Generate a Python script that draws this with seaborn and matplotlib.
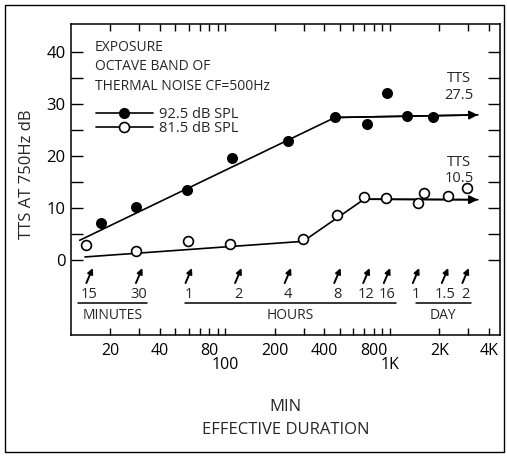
import numpy as np
import pandas as pd
import matplotlib
matplotlib.use("Agg")
import matplotlib.pyplot as plt
import matplotlib.transforms as mtransforms
from matplotlib.lines import Line2D
from matplotlib.patches import Rectangle
import seaborn as sns

# ---------------- data ----------------
hi_label = "92.5 dB SPL"
hi_dur = [17.6, 28.6, 58.7, 110, 240, 465, 724, 957, 1266, 1836]
hi_tts = [7.1, 10.2, 13.5, 19.7, 22.9, 27.4, 26.1, 32.1, 27.6, 27.4]
hi_fit_dur = [13.1, 465, 3430]
hi_fit_tts = [3.8, 27.4, 27.9]

lo_label = "81.5 dB SPL"
lo_dur = [14.4, 28.8, 59.4, 107, 298, 476, 700, 948, 1476, 1612, 2264, 2929]
lo_tts = [2.9, 1.8, 3.6, 3.0, 4.0, 8.7, 12.1, 11.9, 11.0, 12.8, 12.3, 13.8]
lo_fit_dur = [14.1, 298, 700, 3430]
lo_fit_tts = [0.6, 3.6, 11.7, 11.6]

# exposure-time markers (actual durations in minutes) and their labels
mark_min = [15, 30, 60, 120, 240, 480, 720, 960, 1440, 2160, 2880]
mark_lbl = ["15", "30", "1", "2", "4", "8", "12", "16", "1", "1.5", "2"]
group_names = ["MINUTES", "HOURS", "DAY"]
group_members = [(0, 1), (2, 7), (8, 10)]

x_major = [20, 40, 80, 100, 200, 400, 800, 1000, 2000, 4000]
x_major_lbl = ["20", "40", "80", "100", "200", "400", "800", "1K", "2K", "4K"]
x_minor = [30, 50, 60, 70, 90, 300, 500, 600, 700, 900, 3000]
y_major = [0, 10, 20, 30, 40]
y_minor = [5, 15, 25, 35]

tts_hi_text = "TTS\n27.5"
tts_lo_text = "TTS\n10.5"
exposure_text = ["EXPOSURE", "OCTAVE BAND OF", "THERMAL NOISE CF=500Hz"]

# ---------------- style ----------------
sns.set_theme(style="ticks")
FONT = ["Open Sans", "DejaVu Sans"]
plt.rcParams["font.family"] = FONT
plt.rcParams["axes.linewidth"] = 1.1

fig = plt.figure(figsize=(5.07, 4.63), dpi=100)
fig.patch.set_facecolor("white")
ax = fig.add_axes([0.140, 0.2765, 0.846, 0.672])
ax.set_facecolor("white")

# outer frame of the figure
fig.patches.append(Rectangle((0.010, 0.024), 0.984, 0.965, transform=fig.transFigure,
                             fill=False, edgecolor="black", lw=1.0))

hi_df = pd.DataFrame({"dur": hi_dur, "tts": hi_tts})
lo_df = pd.DataFrame({"dur": lo_dur, "tts": lo_tts})
hi_fit = pd.DataFrame({"dur": hi_fit_dur, "tts": hi_fit_tts})
lo_fit = pd.DataFrame({"dur": lo_fit_dur, "tts": lo_fit_tts})

ax.set_xscale("log")

sns.lineplot(data=hi_fit, x="dur", y="tts", ax=ax, color="black", lw=1.2,
             sort=False, estimator=None)
sns.lineplot(data=lo_fit, x="dur", y="tts", ax=ax, color="black", lw=1.2,
             sort=False, estimator=None)
# arrow heads on the last segments
for fd, ft in ((hi_fit_dur, hi_fit_tts), (lo_fit_dur, lo_fit_tts)):
    ax.annotate("", xy=(fd[-1], ft[-1]), xytext=(fd[-2], ft[-2]),
                arrowprops=dict(arrowstyle="-|>", color="black", lw=1.2,
                                mutation_scale=13, shrinkA=0, shrinkB=0))

sns.scatterplot(data=hi_df, x="dur", y="tts", ax=ax, color="black",
                edgecolor="black", s=48, linewidth=1.0, zorder=5)
sns.scatterplot(data=lo_df, x="dur", y="tts", ax=ax, color="white",
                edgecolor="black", s=50, linewidth=1.2, zorder=5)

ax.set_xlim(11.6, 4666)
ax.set_ylim(-14.4, 45.4)

ax.set_xticks(x_major)
ax.set_xticklabels(x_major_lbl, fontsize=11.5)
ax.set_xticks(x_minor, minor=True)
ax.set_xticklabels([], minor=True)
ax.set_yticks(y_major)
ax.set_yticklabels([str(v) for v in y_major], fontsize=12)
ax.set_yticks(y_minor, minor=True)

ax.tick_params(axis="x", which="both", direction="in", top=True, bottom=True,
               length=5, width=1.0, pad=6, colors="black")
ax.tick_params(axis="y", which="both", direction="in", left=True, right=True,
               length=8.5, width=1.0, pad=4, colors="black")
for lbl, tick in zip(x_major_lbl, ax.xaxis.get_major_ticks()):
    if lbl in ("100", "1K"):
        tick.set_pad(16)

for sp in ax.spines.values():
    sp.set_visible(True)
    sp.set_color("black")
    sp.set_linewidth(1.1)

ax.set_ylabel("TTS AT 750Hz dB", fontsize=12)
ax.yaxis.set_label_coords(-0.085, 0.515)
ax.set_xlabel("MIN\nEFFECTIVE DURATION", fontsize=12, linespacing=1.6)
ax.xaxis.set_label_coords(0.5, -0.205)

# exposure description
for i, t in enumerate(exposure_text):
    ax.text(0.056, 0.925 - i * 0.063, t, transform=ax.transAxes, fontsize=10,
            ha="left", va="center")

# legend
handles = [Line2D([], [], color="black", lw=1.2, marker="o", markersize=7,
                  markerfacecolor="black", markeredgecolor="black"),
           Line2D([], [], color="black", lw=1.2, marker="o", markersize=7.2,
                  markerfacecolor="white", markeredgecolor="black", markeredgewidth=1.2)]
ax.legend(handles, [hi_label, lo_label], loc="upper left",
          bbox_to_anchor=(0.058, 0.733), frameon=False, fontsize=10.5,
          handlelength=3.9, handletextpad=0.45, labelspacing=-0.05,
          borderpad=0, borderaxespad=0)

# TTS annotations at the right
ax.text(0.905, 0.797, tts_hi_text, transform=ax.transAxes, fontsize=10.5,
        ha="center", va="center", linespacing=1.15)
ax.text(0.905, 0.529, tts_lo_text, transform=ax.transAxes, fontsize=10.5,
        ha="center", va="center", linespacing=1.15)

# exposure-time arrows and labels
trans = mtransforms.blended_transform_factory(ax.transData, ax.transAxes)
for m, l in zip(mark_min, mark_lbl):
    centre = trans.transform((m, 0.191))
    tail = centre + np.array([-3.0, -7.5])
    head = centre + np.array([3.4, 7.5])
    ax.annotate("", xy=head, xycoords="figure pixels", xytext=tail,
                textcoords="figure pixels",
                arrowprops=dict(arrowstyle="-|>", color="black", lw=1.4,
                                mutation_scale=8, shrinkA=0, shrinkB=0))
    ax.text(m, 0.129, l, transform=trans, fontsize=10.5, ha="center", va="center")

# group underlines and names
pads = [(1.17, 1.12), (1.05, 1.135), (1.0, 1.08)]
for name, (i0, i1), (pl, pr) in zip(group_names, group_members, pads):
    x0 = mark_min[i0] / pl
    x1 = mark_min[i1] * pr
    ax.plot([x0, x1], [0.103, 0.103], transform=trans, color="black", lw=1.1,
            clip_on=False)
    ax.text(np.sqrt(x0 * x1), 0.062, name, transform=trans, fontsize=10,
            ha="center", va="center")

fig.savefig("out.png", dpi=100, facecolor="white")
